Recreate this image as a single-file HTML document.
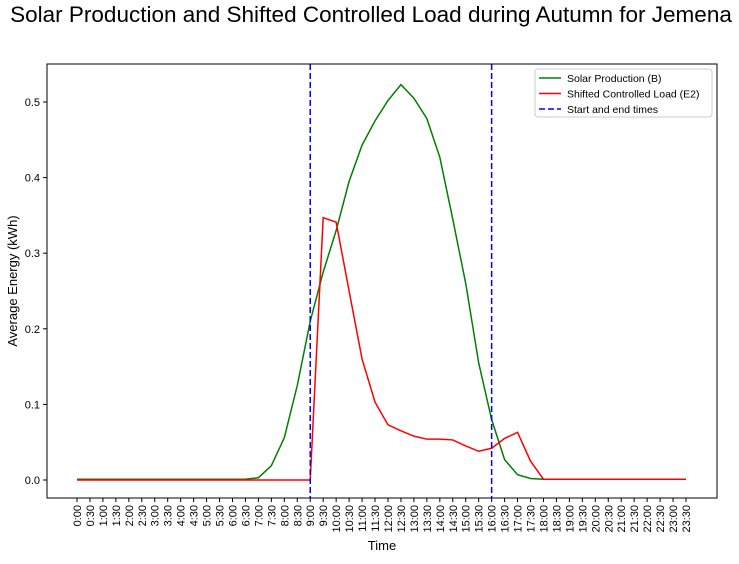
<!DOCTYPE html>
<html><head><meta charset="utf-8"><style>
body{margin:0;background:#fff;font-family:"Liberation Sans","DejaVu Sans",sans-serif;}
svg text{font-family:"Liberation Sans","DejaVu Sans",sans-serif;}
</style></head><body>
<svg id="chart" width="739" height="559">
<text x="371" y="22" text-anchor="middle" font-size="22.5">Solar Production and Shifted Controlled Load during Autumn for Jemena</text>
<g id="axes"></g>
</svg>
<script>
const yTicks=[0.0,0.1,0.2,0.3,0.4,0.5];
const solar=[0.001,0.001,0.001,0.001,0.001,0.001,0.001,0.001,0.001,0.001,0.001,0.001,0.001,0.001,0.003,0.019,0.056,0.125,0.21,0.275,0.33,0.395,0.443,0.475,0.502,0.523,0.505,0.478,0.427,0.345,0.26,0.155,0.08,0.027,0.007,0.002,0.001,0.001,0.001,0.001,0.001,0.001,0.001,0.001,0.001,0.001,0.001,0.001];
const load=[0,0,0,0,0,0,0,0,0,0,0,0,0,0,0,0,0,0,0,0.347,0.341,0.25,0.16,0.103,0.073,0.065,0.058,0.054,0.054,0.053,0.045,0.038,0.042,0.055,0.063,0.025,0.001,0.001,0.001,0.001,0.001,0.001,0.001,0.001,0.001,0.001,0.001,0.001];
const markers=[18,32];
const categories=[];for(let h=0;h<24;h++){categories.push(h+':00');categories.push(h+':30');}
const L=47,R=717,T=64,B=498;
const x0=77,x1=686;
const X=i=>x0+i*(x1-x0)/(categories.length-1);
const Y=v=>480-v*756;
const ns='http://www.w3.org/2000/svg';
const g=document.getElementById('axes');
function mk(t,a){const e=document.createElementNS(ns,t);for(const k in a)e.setAttribute(k,a[k]);g.appendChild(e);return e;}
categories.forEach((c,i)=>{
 const t=mk('line',{x1:X(i),x2:X(i),y1:B,y2:B+4,stroke:'#000'});
 
 
 const tx=mk('text',{transform:`translate(${X(i)+4},${B+7}) rotate(-90)`,'text-anchor':'end','font-size':'11'});
 tx.textContent=c;
 
 
});
yTicks.forEach(v=>{
 const t=mk('line',{x1:L-4,x2:L,y1:Y(v),y2:Y(v),stroke:'#000'});
 
 
 const tx=mk('text',{x:L-7,y:Y(v)+4,'text-anchor':'end','font-size':'11'});
 tx.textContent=v.toFixed(1);
 
 
});
function line(arr,col,name){const p=mk('polyline',{points:arr.map((v,i)=>X(i)+','+Y(v)).join(' '),fill:'none',stroke:col,'stroke-width':1.5});
 
 }
line(solar,'green','solar-line');
line(load,'red','load-line');
markers.forEach(m=>{const l=mk('line',{x1:X(m),x2:X(m),y1:T,y2:B,stroke:'blue','stroke-width':1.5,'stroke-dasharray':'6,3'});
 
 });
const fr=mk('rect',{x:L,y:T,width:R-L,height:B-T,fill:'none',stroke:'#000'});


const yl=mk('text',{transform:`translate(17,${(T+B)/2}) rotate(-90)`,'text-anchor':'middle','font-size':'13'});
yl.textContent='Average Energy (kWh)';


const xl=mk('text',{x:382,y:550,'text-anchor':'middle','font-size':'13'});
xl.textContent='Time';


const lg=mk('rect',{x:535,y:69,width:177,height:48,rx:3,fill:'#fff',stroke:'#ccc'});


[['Solar Production (B)','green',''],['Shifted Controlled Load (E2)','red',''],['Start and end times','blue','6,3']].forEach((e,i)=>{
 const y=78+i*15.5;
 const l=mk('line',{x1:539,x2:561,y1:y,y2:y,stroke:e[1],'stroke-width':1.5,'stroke-dasharray':e[2]});
 
 
 const t=mk('text',{x:567,y:y+4,'font-size':'10.5'});
 t.textContent=e[0];
 
 
});
</script>
</body></html>
